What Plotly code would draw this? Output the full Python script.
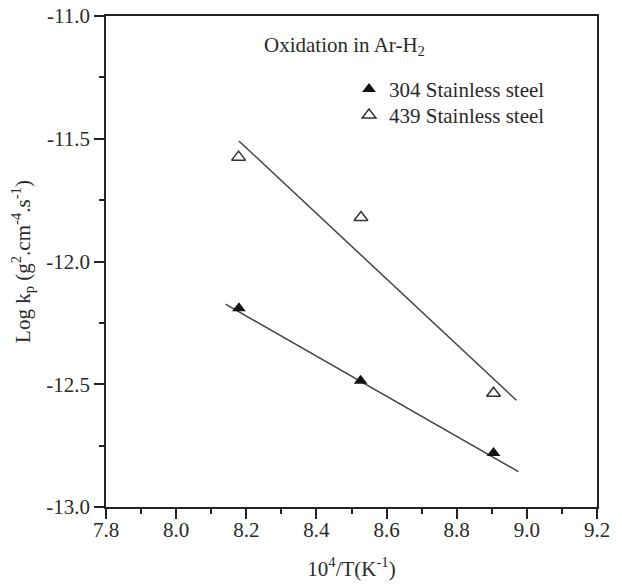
import plotly.graph_objects as go

# Data
x_304 = [8.179, 8.526, 8.905]
y_304 = [-12.19, -12.486, -12.78]
x_439 = [8.178, 8.527, 8.905]
y_439 = [-11.575, -11.821, -12.537]

# fitted line end points (as drawn in the reference)
fit_x_304 = [8.141, 8.976]
fit_y_304 = [-12.174, -12.856]
fit_x_439 = [8.179, 8.970]
fit_y_439 = [-11.509, -12.565]

x_ticks = [7.8, 8.0, 8.2, 8.4, 8.6, 8.8, 9.0, 9.2]
y_ticks = [-13.0, -12.5, -12.0, -11.5, -11.0]

FONT = "Liberation Serif"
INK = "#2a2a2a"
LINE = "#444444"

# page body margin is removed (post_script), so the figure fills the window
W, H = 622, 584
L, T = 106, 15.5
PW, PH = 491, 492
R, B = W - L - PW, H - T - PH


def px(xw):
    return (xw - L) / PW


def py(yw):
    return 1 - (yw - T) / PH


fig = go.Figure()
fig.add_trace(go.Scatter(x=fit_x_439, y=fit_y_439, mode="lines",
                         line=dict(color=LINE, width=1.5), showlegend=False, hoverinfo="skip"))
fig.add_trace(go.Scatter(x=fit_x_304, y=fit_y_304, mode="lines",
                         line=dict(color=LINE, width=1.5), showlegend=False, hoverinfo="skip"))
fig.add_trace(go.Scatter(x=x_304, y=y_304, mode="markers", name="304 Stainless steel",
                         legend="legend",
                         marker=dict(symbol="triangle-up", size=12, color="#111111",
                                     line=dict(width=0))))
fig.add_trace(go.Scatter(x=x_439, y=y_439, mode="markers", name="439 Stainless steel",
                         legend="legend2",
                         marker=dict(symbol="triangle-up-open", size=12, color="#333333",
                                     line=dict(width=1.5))))

fig.add_annotation(x=px(262), y=py(46), xref="paper", yref="paper",
                   text="Oxidation in Ar-H<sub>2</sub>",
                   showarrow=False, xanchor="left", yanchor="middle",
                   font=dict(family=FONT, size=21, color=INK))

axis_common = dict(showline=True, linecolor="#222222", linewidth=1.6, mirror=True,
                   ticks="outside", ticklen=10, tickwidth=1.5, tickcolor="#222222",
                   showgrid=False, zeroline=False, automargin=False,
                   ticklabeloverflow="allow",
                   tickfont=dict(family=FONT, size=21, color=INK))

legend_common = dict(xanchor="left", yanchor="middle", bgcolor="rgba(0,0,0,0)",
                     font=dict(family=FONT, size=21, color=INK), itemwidth=30)

fig.update_layout(
    width=W, height=H,
    margin=dict(l=L, r=R, t=T, b=B, pad=0),
    paper_bgcolor="white", plot_bgcolor="white",
    font=dict(family=FONT, size=21, color=INK),
    showlegend=True,
    legend=dict(x=px(349), y=py(89), **legend_common),
    legend2=dict(x=px(349), y=py(115), **legend_common),
    xaxis=dict(range=[7.8, 9.2], tickvals=x_ticks, ticktext=[f"{v:.1f}" for v in x_ticks],
               ticklabelstandoff=-7,
               title=dict(text="10<sup>4</sup>/T(K<sup>-1</sup>)", standoff=20,
                          font=dict(family=FONT, size=21, color=INK)),
               minor=dict(dtick=0.1, tick0=7.8, ticks="outside", ticklen=5, tickwidth=1.5,
                          tickcolor="#222222", showgrid=False),
               **axis_common),
    yaxis=dict(range=[-13.0, -11.0], tickvals=y_ticks, ticktext=[f"{v:.1f}" for v in y_ticks],
               title=dict(text="Log k<sub>p</sub> (g<sup>2</sup>.cm<sup>-4</sup>.s<sup>-1</sup>)",
                          standoff=10, font=dict(family=FONT, size=21, color=INK)),
               minor=dict(dtick=0.25, tick0=-13.0, ticks="outside", ticklen=5, tickwidth=1.5,
                          tickcolor="#222222", showgrid=False),
               **axis_common),
)

fig.write_html("out.html",
               config={"displayModeBar": False},
               post_script="document.body.style.margin='0';document.body.style.overflow='hidden';")
